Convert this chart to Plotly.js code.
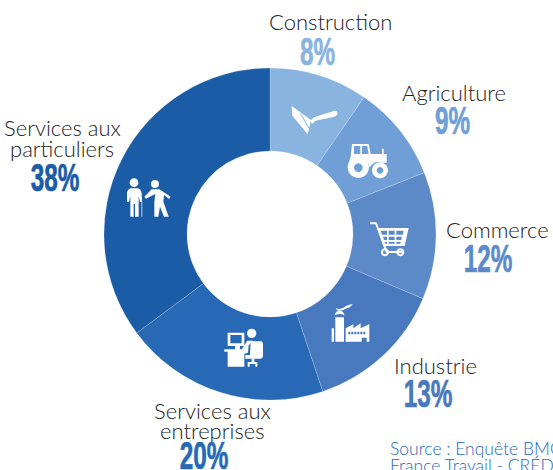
<!DOCTYPE html>
<html><head><meta charset="utf-8">
<script src="https://cdn.plot.ly/plotly-3.0.1.min.js"></script>
<style>html,body{margin:0;padding:0;background:#fff;overflow:hidden}</style></head>
<body><div id="chart" style="width:553px;height:470px"></div>
<script>
const categories = ["Construction","Agriculture","Commerce","Industrie","Services aux<br>entreprises","Services aux<br>particuliers"];
const percentLabels = ["8%","9%","12%","13%","20%","38%"];
// Slice shares as actually drawn in the picture (the drawing is not strictly proportional to its labels)
const drawnShares = [9.6,9.4,12.4,13.5,20.0,35.2];
const sliceColors = ["#8AB4E0","#6F9FD6","#5C8AC9","#4878BD","#2769B5","#1A5CA6"];
const labelCenters = [[330,22],[454,92],[498,230],[435,365],[212,420],[62,138]];
const pctCenters = [[317,52],[452,121],[488,259],[428,394],[204,456],[55,178]];
const sourceLines = ["Source : Enquête BMO","France Travail - CRÉDOC"];
const W=553,H=470,CX=270,CY=234,R=166;
const icons = `<svg xmlns="http://www.w3.org/2000/svg" viewBox="0 0 1020 1035">
<g fill="#fff" stroke="none">
<path d="M575 138L633 180L623 223L577 167Z"/>
<path d="M602 160L626 204" stroke="#8AB4E0" stroke-width="3" fill="none"/>
<path d="M632 182L642 172L704 152Q714 152 712 162Q708 170 700 171L646 182L636 192Z"/>
<path fill-rule="evenodd" d="M756 252H806L812 282H846V266H851V282H860V308H846Q830 300 815 315L808 322Q806 296 775 290Q750 292 745 312L752 290ZM762 258V282H781V258ZM786 258V282H806L802 258Z"/>
<path fill-rule="evenodd" d="M775 290A32 32 0 1 1 774.9 290ZM775 310A13 13 0 1 0 775.1 310Z"/>
<path fill-rule="evenodd" d="M840 307A24 24 0 1 1 839.9 307ZM840 321A10 10 0 1 0 840.1 321Z"/>
<path fill-rule="evenodd" d="M832 504H926L914 558H850ZM842 512L846 524H861V512ZM866 512V524H884V512ZM889 512V524H908L911 512ZM849 530L852 540H861V530ZM866 530V540H884V530ZM889 530V540H904L906 530ZM854 546L856 551H861V546ZM866 546V551H884V546ZM889 546V551H901L902 546Z"/>
<path d="M810 487H830L862 573H912V579H858L826 493H810Z"/>
<path fill-rule="evenodd" d="M855 565A12 12 0 1 1 854.9 565ZM855 571A6 6 0 1 0 855.1 571Z"/>
<path fill-rule="evenodd" d="M901 565A12 12 0 1 1 900.9 565ZM901 571A6 6 0 1 0 901.1 571Z"/>
<path d="M708 744Q722 752 738 738Q748 734 758 732Q750 744 738 746Q728 752 716 752Q708 750 708 744Z"/>
<path d="M704 766Q706 752 718 752Q732 752 733 766Q720 758 704 766Z"/>
<path d="M695 805H702V845H695ZM706 772H732V845H706Z"/>
<path fill-rule="evenodd" d="M737 805L760 793V805L782 790V805L808 792V845H800V833H785V845H737ZM745 815V823H751V815ZM754 815V823H760V815ZM763 815V823H769V815ZM772 815V823H778V815ZM781 815V823H787V815ZM790 815V823H796V815Z"/>
<path fill-rule="evenodd" d="M383 818H433V858H383ZM391 825V850H425V825Z"/>
<path d="M405 858H420V868H405ZM373 868H433V875H373ZM383 875H433V920H383Z"/>
<circle cx="455" cy="820" r="14"/>
<path d="M424 870L442 842H460L446 856L444 878L430 882Z"/>
<path d="M452 844H484Q489 846 489 852V888Q489 895 482 896H436V885H450Z"/>
<path d="M455 896H463V906H472V920H466V912H449V920H443V906H455Z"/>
<circle cx="102" cy="368" r="13"/>
<path d="M92 385H113Q122 386 125 400L126 426H120L116 408V470H105V432H101V470H91V408L87 426H81L81 398Q84 386 92 385Z"/>
<path d="M124 426H127V470H124Z" opacity="0.7"/>
<circle cx="165" cy="372" r="12"/>
<path d="M155 388H178L212 410L207 417L192 405L190 425L206 470H192L180 440L175 470H163L163 425L166 402L138 416L133 410Z"/>
</g></svg>`;
const annotations = [];
function addText(text,x,y,font,anchor){
  annotations.push({xref:"paper",yref:"paper",x:x/W,y:1-y/H,text,showarrow:false,xanchor:anchor||"center",yanchor:"middle",font});
}
const labelFont={family:"Lato, sans-serif",size:22,weight:300,color:"#222"};
categories.forEach((c,i)=>{
  const lines=c.split("<br>");
  lines.forEach((l,j)=>addText(l,labelCenters[i][0],labelCenters[i][1]+(j-(lines.length-1)/2)*20,labelFont));
  addText("<b>"+percentLabels[i]+"</b>",pctCenters[i][0],pctCenters[i][1],
    {family:"'Liberation Sans', sans-serif",size:38,color:sliceColors[i]});
});
sourceLines.forEach((l,j)=>addText(l,387.5,448+j*17,{family:"Lato, sans-serif",size:17.5,weight:300,color:"#2769B5"},"left"));
Plotly.newPlot("chart",[{type:"pie",labels:categories,values:drawnShares,hole:0.5,sort:false,direction:"clockwise",rotation:0,
  textinfo:"none",hoverinfo:"label",marker:{colors:sliceColors,line:{color:"rgba(255,255,255,0.3)",width:0.6}},
  domain:{x:[(CX-R)/W,(CX+R)/W],y:[1-(CY+R)/H,1-(CY-R)/H]}}],
  {width:W,height:H,margin:{l:0,r:0,t:0,b:0},showlegend:false,paper_bgcolor:"#fff",annotations,
   images:[{source:"data:image/svg+xml;charset=utf-8,"+encodeURIComponent(icons),xref:"paper",yref:"paper",
     x:100/W,y:1-60/H,sizex:340/W,sizey:345/H,xanchor:"left",yanchor:"top",sizing:"stretch",layer:"above"}]},
  {displayModeBar:false,staticPlot:true}).then(gd=>{
    // The reference percentages use a heavy condensed face: narrow the real text in place.
    gd.querySelectorAll(".annotation-text").forEach(t=>{
      if(!/%$/.test(t.textContent)) return;
      t.setAttribute("textLength",t.getComputedTextLength()*0.64);
      t.setAttribute("lengthAdjust","spacingAndGlyphs");
      const fill=t.style.fill;
      t.style.stroke=fill; t.style.strokeWidth="0.7px";
    });
  });
</script></body></html>
